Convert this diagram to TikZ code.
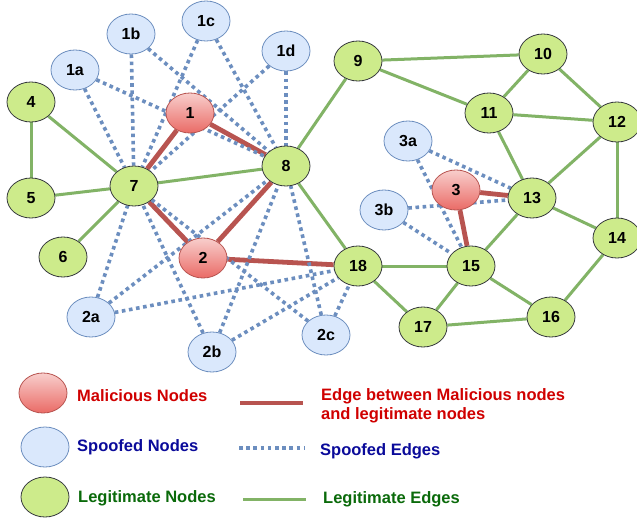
\documentclass[tikz,border=0pt]{standalone}
\usepackage{fontspec}
\setmainfont{Liberation Sans}
\usetikzlibrary{shapes.geometric}
\pgfdeclarelayer{back}
\pgfdeclarelayer{edges}
\pgfsetlayers{back,edges,main}

\definecolor{greenfill}{HTML}{CDEB8B}
\definecolor{greenline}{HTML}{36393D}
\definecolor{bluefill}{HTML}{DAE8FC}
\definecolor{blueline}{HTML}{6C8EBF}
\definecolor{redtop}{HTML}{F8CECC}
\definecolor{redbot}{HTML}{EA6B66}
\definecolor{redline}{HTML}{B85450}
\definecolor{legitedge}{HTML}{82B366}
\definecolor{maledge}{HTML}{B85450}
\definecolor{spoofedge}{HTML}{6C8EBF}
\definecolor{redtext}{HTML}{D00000}
\definecolor{bluetext}{HTML}{0A0A9A}
\definecolor{greentext}{HTML}{0A6A0A}

\begin{document}
\begin{tikzpicture}[x=1pt,y=-1pt,
  base/.style={ellipse, minimum width=48pt, minimum height=40pt, inner sep=0pt,
    font=\bfseries\fontsize{16}{16}\selectfont, line width=0.8pt},
  legit/.style={base, draw=greenline, fill=greenfill},
  spoof/.style={base, draw=blueline, fill=bluefill},
  mal/.style={base, draw=redline, top color=redtop, bottom color=redbot},
  ledge/.style={draw=legitedge, line width=3pt},
  medge/.style={draw=maledge, line width=4.8pt},
  sedge/.style={draw=spoofedge, line width=3.6pt, dash pattern=on 3.6pt off 3.6pt},
  lgtext/.style={anchor=west, inner sep=0pt, align=left,
    font=\bfseries\fontsize{16.5}{19}\selectfont}
]
\useasboundingbox (0,0) rectangle (637,519);
\clip (0,0) rectangle (637,519);
\begin{pgfonlayer}{back}
  \fill[white] (0,0) rectangle (637,519);
\end{pgfonlayer}

% legitimate nodes
\node[legit] (n4)  at (31,102)  {4};
\node[legit] (n5)  at (31,198)  {5};
\node[legit] (n6)  at (63,257)  {6};
\node[legit] (n7)  at (134,186) {7};
\node[legit] (n8)  at (286,166) {8};
\node[legit] (n9)  at (358,61)  {9};
\node[legit] (n10) at (543,54)  {10};
\node[legit] (n11) at (489,113) {11};
\node[legit] (n12) at (617,122) {12};
\node[legit] (n13) at (532,198) {13};
\node[legit] (n14) at (617,238) {14};
\node[legit] (n15) at (471,266) {15};
\node[legit] (n16) at (551,317) {16};
\node[legit] (n17) at (423,327) {17};
\node[legit] (n18) at (358,266) {18};

% malicious nodes
\node[mal] (m1) at (190,113) {1};
\node[mal] (m2) at (203,258) {2};
\node[mal] (m3) at (456,190) {3};

% spoofed nodes
\node[spoof] (s1a) at (75,70)   {1a};
\node[spoof] (s1b) at (131,34)  {1b};
\node[spoof] (s1c) at (206,21)  {1c};
\node[spoof] (s1d) at (286,51)  {1d};
\node[spoof] (s2a) at (91,317)  {2a};
\node[spoof] (s2b) at (212,352) {2b};
\node[spoof] (s2c) at (326,335) {2c};
\node[spoof] (s3a) at (408,141) {3a};
\node[spoof] (s3b) at (384,210) {3b};

\begin{pgfonlayer}{edges}
  % legitimate edges
  \foreach \a/\b in {n4/n5, n4/n7, n5/n7, n6/n7, n7/n8, n8/n9, n8/n18,
      n9/n10, n9/n11, n10/n11, n10/n12, n11/n12, n11/n13, n12/n13, n12/n14,
      n13/n14, n13/n15, n15/n18, n15/n16, n15/n17, n17/n18, n16/n17, n16/n14}
    \draw[ledge] (\a) -- (\b);
  % malicious edges
  \foreach \a/\b in {m1/n7, m1/n8, m2/n7, m2/n8, m2/n18, m3/n13, m3/n15}
    \draw[medge] (\a) -- (\b);
  % spoofed edges
  \foreach \a/\b in {s1a/n7, s1a/n8, s1b/n7, s1b/n8, s1c/n7, s1c/n8, s1d/n7, s1d/n8,
      s2a/n7, s2a/n8, s2a/n18, s2b/n7, s2b/n8, s2b/n18, s2c/n7, s2c/n8, s2c/n18,
      s3a/n13, s3a/n15, s3b/n13, s3b/n15}
    \draw[sedge] (\a) -- (\b);
\end{pgfonlayer}

% legend
\node[mal] (kmal) at (43,393) {};
\node[spoof] (kspoof) at (45,447) {};
\node[legit] (klegit) at (45,497) {};
\node[lgtext, text=redtext]   (tmal)   at (77,396)  {Malicious Nodes};
\node[lgtext, text=bluetext]  (tspoof) at (77,447)  {Spoofed Nodes};
\node[lgtext, text=greentext] (tlegit) at (78,498)  {Legitimate Nodes};

\coordinate (km1) at (240,403); \coordinate (km2) at (303,403);
\coordinate (ks1) at (239,448); \coordinate (ks2) at (304,448);
\coordinate (kl1) at (243,499); \coordinate (kl2) at (306,499);
\draw[medge] (km1) -- (km2);
\draw[sedge] (ks1) -- (ks2);
\draw[ledge] (kl1) -- (kl2);

\node[lgtext, text=redtext]   (tmedge) at (321,405.5) {Edge between Malicious nodes\\and legitimate nodes};
\node[lgtext, text=bluetext]  (tsedge) at (320,451)   {Spoofed Edges};
\node[lgtext, text=greentext] (tledge) at (323,499)   {Legitimate Edges};
\end{tikzpicture}
\end{document}
